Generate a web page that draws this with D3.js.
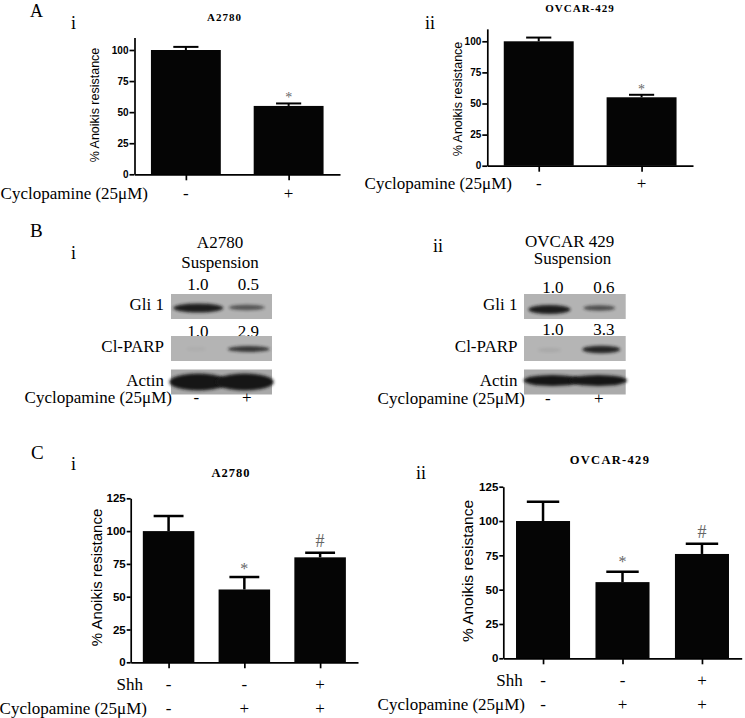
<!DOCTYPE html>
<html>
<head>
<meta charset="utf-8">
<script src="https://cdn.jsdelivr.net/npm/d3@7"></script>
<style>
  body { margin: 0; background: #fff; }
  .serif { font-family: "Liberation Serif", "Times New Roman", serif; }
  .sans { font-family: "Liberation Sans", Arial, sans-serif; }
</style>
</head>
<body>
<div id="fig"></div>
<script>
// ---- data ----
// panel A: anoikis resistance, cyclopamine - / +
var cycloA = ["-", "+"];
var resistA1 = [100, 55];
var errA1 = [2.5, 2];
var resistA2 = [100, 55];
var errA2 = [3, 2];
var marksA = ["", "*"];
var yTicksA = [0, 25, 50, 75, 100];

// panel B: western blots (densitometry labels + how dark each band looks)
var lanesB = ["-", "+"];
var gliQuant1 = ["1.0", "0.5"];
var parpQuant1 = ["1.0", "2.9"];
var gliQuant2 = ["1.0", "0.6"];
var parpQuant2 = ["1.0", "3.3"];
var gliBand1 = [0.95, 0.6];
var parpBand1 = [0.04, 0.8];
var actinBand1 = [1, 1];
var gliBand2 = [0.95, 0.65];
var parpBand2 = [0.08, 0.9];
var actinBand2 = [1, 1];

// panel C: Shh rescue
var shhC = ["-", "-", "+"];
var cycloC = ["-", "+", "+"];
var resistC1 = [100, 55.5, 80];
var errC1 = [11.5, 9.5, 3.5];
var resistC2 = [100, 55.5, 76];
var errC2 = [14, 7.5, 7.5];
var marksC = ["", "*", "#"];
var yTicksC = [0, 25, 50, 75, 100, 125];

var svg = d3.select("#fig").append("svg")
  .attr("width", 745)
  .attr("height", 718);

// blur filter for the blot bands
var defs = svg.append("defs");
defs.append("filter").attr("id", "blur")
  .attr("x", "-30%").attr("y", "-60%").attr("width", "160%").attr("height", "220%")
  .append("feGaussianBlur").attr("stdDeviation", 1.6);

function label(x, y, txt, size, anchor, cls, weight) {
  return svg.append("text")
    .attr("class", cls || "serif")
    .attr("x", x).attr("y", y)
    .attr("font-size", size)
    .attr("font-weight", weight || "normal")
    .attr("text-anchor", anchor || "start")
    .text(txt);
}

// a GraphPad-style bar chart with error bars
function barPanel(o) {
  var x = d3.scalePoint()
    .domain(d3.range(o.values.length))
    .range([o.x0, o.x1])
    .padding(0.5);
  var perUnit = (o.y0 - o.yRef) / o.ref;
  var y = d3.scaleLinear()
    .domain([0, o.yMax])
    .range([o.y0, o.y0 - o.yMax * perUnit]);
  var bw = x.step() * 0.68;
  var cw = bw * o.cap;
  var g = svg.append("g");

  g.selectAll("rect.bar")
    .data(o.values)
    .join("rect")
      .attr("class", "bar")
      .attr("x", function(d, i) { return x(i) - bw / 2; })
      .attr("y", function(d) { return y(d); })
      .attr("width", bw)
      .attr("height", function(d) { return y(0) - y(d); })
      .attr("fill", "#050505");

  // error bars (upper only)
  var eb = g.selectAll("g.err")
    .data(o.values)
    .join("g").attr("class", "err");
  eb.append("line")
    .attr("x1", function(d, i) { return x(i); })
    .attr("x2", function(d, i) { return x(i); })
    .attr("y1", function(d) { return y(d); })
    .attr("y2", function(d, i) { return y(d + o.errs[i]); })
    .attr("stroke", "#000").attr("stroke-width", o.ew);
  eb.append("line")
    .attr("x1", function(d, i) { return x(i) - cw / 2; })
    .attr("x2", function(d, i) { return x(i) + cw / 2; })
    .attr("y1", function(d, i) { return y(d + o.errs[i]); })
    .attr("y2", function(d, i) { return y(d + o.errs[i]); })
    .attr("stroke", "#000").attr("stroke-width", o.ew);

  // significance marks
  g.selectAll("text.mark")
    .data(o.marks)
    .join("text")
      .attr("class", "mark serif")
      .attr("x", function(d, i) { return x(i); })
      .attr("y", function(d, i) {
        var top = y(o.values[i] + o.errs[i]);
        return d === "#" ? top - 6 : top - o.starOff;
      })
      .attr("text-anchor", "middle")
      .attr("font-size", function(d) { return d === "#" ? o.markSize + 2 : o.markSize; })
      .attr("fill", "#666")
      .text(function(d) { return d; });

  // axes
  var ya = g.append("g")
    .attr("transform", "translate(" + o.x0 + ",0)")
    .call(d3.axisLeft(y).tickValues(o.ticks).tickSize(o.tickLen).tickPadding(1).tickSizeOuter(0));
  var xa = g.append("g")
    .attr("transform", "translate(0," + o.y0 + ")")
    .call(d3.axisBottom(x).tickSize(6).tickFormat("").tickSizeOuter(0));
  [ya, xa].forEach(function(a) {
    a.select(".domain").attr("stroke", "#000").attr("stroke-width", 1.7);
    a.selectAll(".tick line").attr("stroke", "#000").attr("stroke-width", 1.7);
  });
  ya.selectAll(".tick text")
    .attr("class", "sans")
    .attr("font-size", o.tickFont)
    .attr("font-weight", "bold")
    .attr("fill", "#000");

  // y title
  svg.append("text")
    .attr("class", "sans")
    .attr("transform", "translate(" + o.ylx + "," + o.yly + ") rotate(-90)")
    .attr("text-anchor", "middle")
    .attr("dy", "0.35em")
    .attr("font-size", o.ylSize)
    .text("% Anoikis resistance");

  // title
  label(o.tx, o.ty, o.title, o.titleSize, "middle", "serif", "bold")
    .attr("letter-spacing", o.titleSpacing);

  // treatment rows under the axis
  o.rows.forEach(function(r) {
    label(r.lx, r.y, r.name, 17, "end");
    svg.selectAll(null)
      .data(r.vals)
      .join("text")
        .attr("class", "serif")
        .attr("x", function(d, i) { return x(i); })
        .attr("y", r.y)
        .attr("text-anchor", "middle")
        .attr("font-size", 17)
        .text(function(d) { return d; });
  });
}

// western blot panel
function blotPanel(o) {
  var x = d3.scalePoint()
    .domain(d3.range(o.lanes.length))
    .range([o.bx0, o.bx1])
    .padding(0.5);
  var bw = o.bx1 - o.bx0;

  label(o.tcx, o.t1y, o.t1, 17, "middle");
  label(o.tcx2, o.t2y, "Suspension", 17, "middle");

  // quantification numbers (blots drawn after so they overlap like the original)
  [[o.gliQ, o.q1y], [o.parpQ, o.q2y]].forEach(function(q) {
    svg.selectAll(null)
      .data(q[0])
      .join("text")
        .attr("class", "serif")
        .attr("x", function(d, i) { return x(i) + o.qdx; })
        .attr("y", q[1])
        .attr("text-anchor", "middle")
        .attr("font-size", 17)
        .text(function(d) { return d; });
  });

  o.rows.forEach(function(r) {
    svg.append("rect")
      .attr("x", o.bx0).attr("y", r.y)
      .attr("width", bw).attr("height", 25)
      .attr("fill", r.bg);
    svg.selectAll(null)
      .data(r.band)
      .join("ellipse")
        .attr("cx", function(d, i) { return x(i) + r.dx[i]; })
        .attr("cy", function(d, i) { return r.y + r.cy[i]; })
        .attr("rx", function(d, i) { return r.rx[i]; })
        .attr("ry", function(d, i) { return r.ry[i]; })
        .attr("fill", "#151515")
        .attr("opacity", function(d) { return d; })
        .attr("filter", "url(#blur)");
    label(o.lx, r.y + 16, r.name, 17, "end");
  });

  label(o.cx, o.cy, "Cyclopamine (25\u03bcM)", 17, "end");
  svg.selectAll(null)
    .data(o.lanes)
    .join("text")
      .attr("class", "serif")
      .attr("x", function(d, i) { return x(i) + o.ldx; })
      .attr("y", o.cy)
      .attr("text-anchor", "middle")
      .attr("font-size", 17)
      .text(function(d) { return d; });
}

// panel letters and roman numerals
label(30, 17, "A", 18);
label(71, 28.5, "i", 18);
label(425, 28.5, "ii", 18);
label(30, 237, "B", 19);
label(71, 258.5, "i", 18);
label(433, 252, "ii", 18);
label(31, 459, "C", 19);
label(71, 469.5, "i", 18);
label(416, 478.5, "ii", 18);

// A-i
barPanel({
  values: resistA1, errs: errA1, marks: marksA, ticks: yTicksA,
  x0: 134.5, x1: 340, y0: 174.3, yRef: 50, ref: 100, yMax: 110,
  cap: 0.36, ew: 2, tickLen: 5, tickFont: 10, markSize: 14, starOff: 1,
  ylx: 94.5, yly: 105, ylSize: 12.5,
  title: "A2780", tx: 224.5, ty: 20.5, titleSize: 11, titleSpacing: 1,
  rows: [{ name: "Cyclopamine (25\u03bcM)", vals: cycloA, lx: 148, y: 199 }]
});

// A-ii
barPanel({
  values: resistA2, errs: errA2, marks: marksA, ticks: yTicksA,
  x0: 487.3, x1: 693, y0: 165.7, yRef: 41.3, ref: 100, yMax: 110,
  cap: 0.36, ew: 2, tickLen: 5, tickFont: 10, markSize: 14, starOff: 1,
  ylx: 457.3, yly: 99, ylSize: 12.5,
  title: "OVCAR-429", tx: 580, ty: 12.3, titleSize: 11, titleSpacing: 1,
  rows: [{ name: "Cyclopamine (25\u03bcM)", vals: cycloA, lx: 512, y: 189 }]
});

// B-i
blotPanel({
  lanes: lanesB, gliQ: gliQuant1, parpQ: parpQuant1,
  bx0: 171, bx1: 272, tcx: 220, t1: "A2780", t1y: 248.3, tcx2: 220, t2y: 268.3,
  q1y: 290, q2y: 337, qdx: 1.5, lx: 164, cx: 172, cy: 403, ldx: 0,
  rows: [
    { name: "Gli 1", y: 294, bg: "#b2b2b2", band: gliBand1,
      dx: [2, 0], cy: [14, 13.5], rx: [25, 18], ry: [4.5, 2.8] },
    { name: "Cl-PARP", y: 336, bg: "#b4b4b4", band: parpBand1,
      dx: [0, 2], cy: [13, 13], rx: [10, 21], ry: [2, 3] },
    { name: "Actin", y: 369.5, bg: "#a9a9a9", band: actinBand1,
      dx: [2, -2], cy: [12.5, 12.5], rx: [29, 29], ry: [8.5, 8.5] }
  ]
});

// B-ii
blotPanel({
  lanes: lanesB, gliQ: gliQuant2, parpQ: parpQuant2,
  bx0: 524, bx1: 625.7, tcx: 569.7, t1: "OVCAR 429", t1y: 246.7, tcx2: 572.5, t2y: 264.3,
  q1y: 293.3, q2y: 335, qdx: 3.5, lx: 517.5, cx: 525, cy: 404, ldx: -1.5,
  rows: [
    { name: "Gli 1", y: 294, bg: "#b3b3b3", band: gliBand2,
      dx: [0, -1], cy: [15.5, 14], rx: [21, 16], ry: [4.5, 2.8] },
    { name: "Cl-PARP", y: 336, bg: "#b5b5b5", band: parpBand2,
      dx: [0, 1], cy: [14, 13.5], rx: [12, 19], ry: [2, 3.8] },
    { name: "Actin", y: 369.5, bg: "#ababab", band: actinBand2,
      dx: [3, -2], cy: [11, 11], rx: [29, 29], ry: [5.5, 5.5] }
  ]
});

// C-i
barPanel({
  values: resistC1, errs: errC1, marks: marksC, ticks: yTicksC,
  x0: 130.7, x1: 358, y0: 662.3, yRef: 498.3, ref: 125, yMax: 125,
  cap: 0.58, ew: 2.5, tickLen: 4, tickFont: 11.5, markSize: 16, starOff: 3.5,
  ylx: 96.7, yly: 577.5, ylSize: 15,
  title: "A2780", tx: 231, ty: 476.7, titleSize: 12.5, titleSpacing: 1,
  rows: [
    { name: "Shh", vals: shhC, lx: 143, y: 689.5 },
    { name: "Cyclopamine (25\u03bcM)", vals: cycloC, lx: 147, y: 713.5 }
  ]
});

// C-ii
barPanel({
  values: resistC2, errs: errC2, marks: marksC, ticks: yTicksC,
  x0: 503.3, x1: 741.7, y0: 658.3, yRef: 486.7, ref: 125, yMax: 125,
  cap: 0.6, ew: 2.5, tickLen: 4, tickFont: 11.5, markSize: 16, starOff: 5,
  ylx: 467.5, yly: 571, ylSize: 15.5,
  title: "OVCAR-429", tx: 610, ty: 464.3, titleSize: 12.5, titleSpacing: 1.3,
  rows: [
    { name: "Shh", vals: shhC, lx: 522.7, y: 686 },
    { name: "Cyclopamine (25\u03bcM)", vals: cycloC, lx: 525, y: 709.5 }
  ]
});
</script>
</body>
</html>
